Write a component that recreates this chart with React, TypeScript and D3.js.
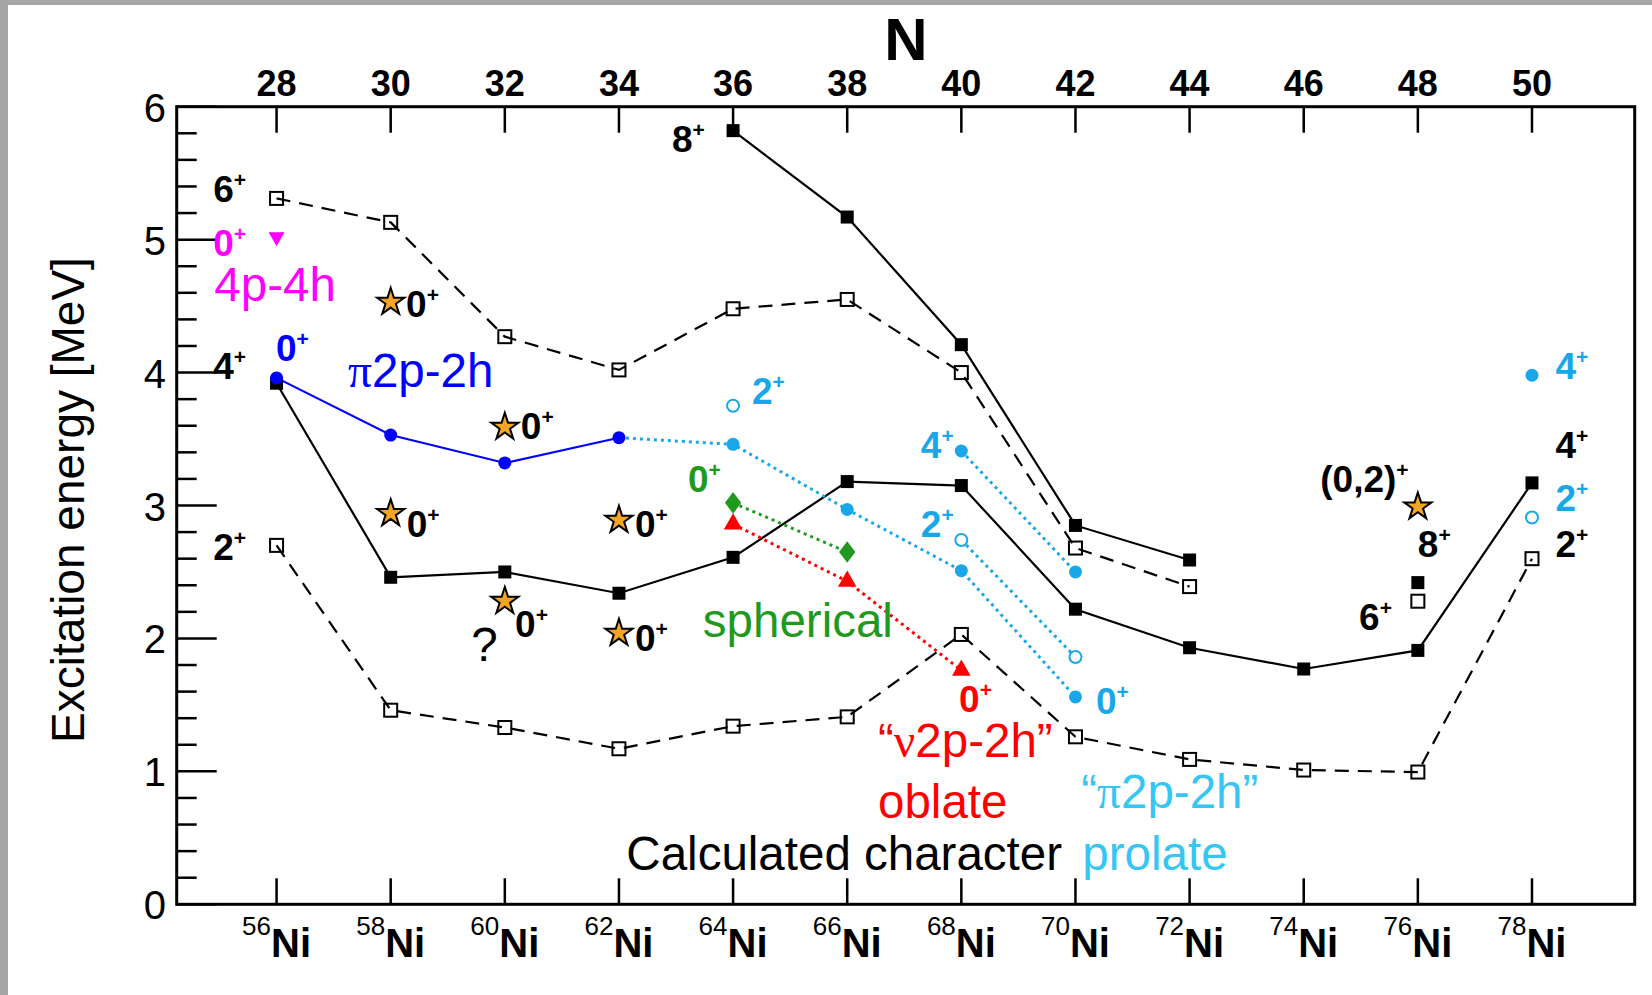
import * as d3 from "d3";

const W = 1652;
const H = 995;

// axis ticks
const N_TICKS = [28, 30, 32, 34, 36, 38, 40, 42, 44, 46, 48, 50];
const MASS = ["56", "58", "60", "62", "64", "66", "68", "70", "72", "74", "76", "78"];
const E_TICKS = [0, 1, 2, 3, 4, 5, 6];
const E_MINOR = d3.range(0, 6.01, 0.2);

// black yrast-like states
const N_2P = [28, 30, 32, 34, 36, 38, 40, 42, 44, 46, 48, 50];
const E_2P = [2.7, 1.46, 1.33, 1.17, 1.34, 1.41, 2.03, 1.26, 1.09, 1.01, 0.995, 2.6];
const N_4P = [28, 30, 32, 34, 36, 38, 40, 42, 44, 46, 48, 50];
const E_4P = [3.92, 2.46, 2.5, 2.34, 2.61, 3.18, 3.15, 2.22, 1.93, 1.77, 1.91, 3.17];
const N_6P = [28, 30, 32, 34, 36, 38, 40, 42, 44];
const E_6P = [5.31, 5.13, 4.27, 4.02, 4.48, 4.55, 4.0, 2.68, 2.39];
const N_8P = [36, 38, 40, 42, 44];
const E_8P = [5.82, 5.17, 4.21, 2.85, 2.59];

// pi 2p-2h band
const N_PI = [28, 30, 32, 34];
const E_PI = [3.96, 3.53, 3.32, 3.51];

// calculated prolate / spherical / oblate
const N_PRO0 = [34, 36, 38, 40, 42];
const E_PRO0 = [3.51, 3.46, 2.97, 2.51, 1.56];
const N_PRO4 = [40, 42];
const E_PRO4 = [3.41, 2.5];
const N_PRO2 = [40, 42];
const E_PRO2 = [2.74, 1.86];
const N_SPH = [36, 38];
const E_SPH = [3.02, 2.65];
const N_OBL = [36, 38, 40];
const E_OBL = [2.86, 2.43, 1.76];

// isolated points
const N_STAR = [30, 32, 30, 34, 32, 34, 48];
const E_STAR = [4.53, 3.59, 2.94, 2.89, 2.28, 2.04, 2.99];
const N_OPEN_C = [36, 50];
const E_OPEN_C = [3.75, 2.91];
const N_FILL_C = [50];
const E_FILL_C = [3.98];
const N_FILL_SQ = [48];
const E_FILL_SQ = [2.42];
const N_OPEN_SQ = [48];
const E_OPEN_SQ = [2.28];
const N_4P4H = [28];
const E_4P4H = [5.02];

const BLUE = "#0000ff";
const LBLUE = "#1aa7ea";
const LBLUE2 = "#35c6f4";
const GREEN = "#1f9a1f";
const RED = "#ff0000";
const MAG = "#ff00ff";
const STAR = "#f4a623";

const FONT = "'Liberation Sans', Arial, Helvetica, sans-serif";
const SERIF = "'Liberation Serif', 'Times New Roman', serif";

// level labels: [text, N, E(baseline), colour]
const SPIN_LABELS: [string, number, number, string][] = [
  ["6", 26.89, 5.28, "#000"],
  ["4", 26.89, 3.95, "#000"],
  ["2", 26.89, 2.59, "#000"],
  ["8", 34.93, 5.66, "#000"],
  ["(0,2)", 46.29, 3.1, "#000"],
  ["8", 48.0, 2.61, "#000"],
  ["6", 46.97, 2.06, "#000"],
  ["4", 50.41, 3.36, "#000"],
  ["2", 50.41, 2.61, "#000"],
  ["0", 30.27, 4.42, "#000"],
  ["0", 32.28, 3.5, "#000"],
  ["0", 30.28, 2.76, "#000"],
  ["0", 34.28, 2.76, "#000"],
  ["0", 32.18, 2.01, "#000"],
  ["0", 34.28, 1.905, "#000"],
  ["0", 26.89, 4.875, MAG],
  ["0", 27.99, 4.09, BLUE],
  ["2", 36.33, 3.76, LBLUE],
  ["4", 39.29, 3.36, LBLUE],
  ["2", 39.29, 2.765, LBLUE],
  ["0", 42.36, 1.43, LBLUE],
  ["4", 50.41, 3.95, LBLUE],
  ["2", 50.41, 2.96, LBLUE],
  ["0", 35.21, 3.1, GREEN],
  ["0", 39.96, 1.45, RED],
];

// plain labels: [prefix, serif letter, rest, N, E(baseline), colour]
const TEXT_LABELS: [string, string, string, number, number, string][] = [
  ["", "", "4p-4h", 26.91, 4.535, MAG],
  ["", "π", "2p-2h", 29.25, 3.89, BLUE],
  ["", "", "?", 31.41, 1.83, "#000"],
  ["", "", "spherical", 35.47, 2.01, GREEN],
  ["“", "ν", "2p-2h”", 38.54, 1.11, RED],
  ["", "", "oblate", 38.54, 0.65, RED],
  ["“", "π", "2p-2h”", 42.1, 0.725, LBLUE2],
  ["", "", "Calculated character", 34.13, 0.26, "#000"],
  ["", "", "prolate", 42.12, 0.26, LBLUE2],
];

const x = d3.scaleLinear().domain([26.25, 51.8]).range([176.7, 1634.7]);
const y = d3.scaleLinear().domain([0, 6]).range([904.3, 106.7]);

const zip = (ns: number[], es: number[]) => ns.map((n, i) => [n, es[i]] as [number, number]);

const line = d3
  .line<[number, number]>()
  .x((d) => x(d[0]))
  .y((d) => y(d[1]));

const starPath = d3.symbol(d3.symbolStar, 230)()!;
const triUp = d3.symbol(d3.symbolTriangle, 150)()!;
const triDown = d3.symbol(d3.symbolTriangle, 110)()!;
const diamond = d3
  .symbol({
    draw(ctx: any, size: number) {
      const h = Math.sqrt(size) * 0.95;
      const w = h * 0.75;
      ctx.moveTo(0, -h);
      ctx.lineTo(w, 0);
      ctx.lineTo(0, h);
      ctx.lineTo(-w, 0);
      ctx.closePath();
    },
  }, 130)()!;

const SQ = 13;

const Squares = ({ pts, filled }: { pts: [number, number][]; filled: boolean }) => (
  <g>
    {pts.map((d, i) => (
      <rect
        key={i}
        x={x(d[0]) - SQ / 2}
        y={y(d[1]) - SQ / 2}
        width={SQ}
        height={SQ}
        fill={filled ? "#000" : "none"}
        stroke="#000"
        strokeWidth={filled ? 0 : 2}
      />
    ))}
  </g>
);

const Circles = ({ pts, color, filled, r }: { pts: [number, number][]; color: string; filled: boolean; r: number }) => (
  <g>
    {pts.map((d, i) => (
      <circle
        key={i}
        cx={x(d[0])}
        cy={y(d[1])}
        r={r}
        fill={filled ? color : "#fff"}
        stroke={color}
        strokeWidth={filled ? 0 : 2}
      />
    ))}
  </g>
);

const Symbols = ({ pts, path, color, rot = 0 }: { pts: [number, number][]; path: string; color: string; rot?: number }) => (
  <g>
    {pts.map((d, i) => (
      <path key={i} d={path} fill={color} transform={`translate(${x(d[0])},${y(d[1])}) rotate(${rot})`} />
    ))}
  </g>
);

export default function App() {
  const dashed = { fill: "none", stroke: "#000", strokeWidth: 2.2, strokeDasharray: "14 9" };
  const solid = { fill: "none", stroke: "#000", strokeWidth: 2.2 };
  const dotted = (c: string) => ({ fill: "none", stroke: c, strokeWidth: 3, strokeDasharray: "3 4" });

  return (
    <svg
      width={W}
      height={H}
      style={{ position: "absolute", left: 0, top: 0 }}
      fontFamily={FONT}
    >
      <rect x={0} y={0} width={W} height={H} fill="#a6a6a6" />
      <rect x={8} y={5} width={W - 8} height={H - 5} fill="#fff" />

      {/* frame */}
      <rect
        x={x.range()[0]}
        y={y.range()[1]}
        width={x.range()[1] - x.range()[0]}
        height={y.range()[0] - y.range()[1]}
        fill="none"
        stroke="#000"
        strokeWidth={3}
      />

      {/* left axis ticks */}
      {E_MINOR.map((e, i) => {
        const major = Math.abs(e - Math.round(e)) < 1e-6;
        return (
          <line
            key={i}
            x1={x.range()[0]}
            x2={x.range()[0] + (major ? 40 : 20)}
            y1={y(e)}
            y2={y(e)}
            stroke="#000"
            strokeWidth={2.5}
          />
        );
      })}
      {E_TICKS.map((e) => (
        <text key={e} x={166} y={y(e) + 15} textAnchor="end" fontSize={40}>
          {e}
        </text>
      ))}

      {/* top and bottom ticks */}
      {N_TICKS.map((n, i) => (
        <g key={n}>
          <line x1={x(n)} x2={x(n)} y1={y(6)} y2={y(6) + 26} stroke="#000" strokeWidth={2.5} />
          <line x1={x(n)} x2={x(n)} y1={y(0)} y2={y(0) - 26} stroke="#000" strokeWidth={2.5} />
          <text x={x(n)} y={96} textAnchor="middle" fontSize={36} fontWeight="bold">
            {n}
          </text>
          <text x={x(n)} y={957} textAnchor="middle">
            <tspan fontSize={26} dy={-22}>
              {MASS[i]}
            </tspan>
            <tspan fontSize={40} fontWeight="bold" dy={22}>
              Ni
            </tspan>
          </text>
        </g>
      ))}

      <text x={906} y={60} textAnchor="middle" fontSize={60} fontWeight="bold">
        N
      </text>
      <text transform="translate(84,500) rotate(-90)" textAnchor="middle" fontSize={46}>
        Excitation energy [MeV]
      </text>

      {/* lines */}
      <path d={line(zip(N_2P, E_2P))!} {...dashed} />
      <path d={line(zip(N_6P, E_6P))!} {...dashed} />
      <path d={line(zip(N_4P, E_4P))!} {...solid} />
      <path d={line(zip(N_8P, E_8P))!} {...solid} />
      <path d={line(zip(N_PRO0, E_PRO0))!} {...dotted(LBLUE)} />
      <path d={line(zip(N_PRO4, E_PRO4))!} {...dotted(LBLUE)} />
      <path d={line(zip(N_PRO2, E_PRO2))!} {...dotted(LBLUE)} />
      <path d={line(zip(N_SPH, E_SPH))!} {...dotted(GREEN)} />
      <path d={line(zip(N_OBL, E_OBL))!} {...dotted(RED)} />
      <path d={line(zip(N_PI, E_PI))!} fill="none" stroke={BLUE} strokeWidth={2.2} />

      {/* markers */}
      <Squares pts={zip(N_2P, E_2P)} filled={false} />
      <Squares pts={zip(N_6P, E_6P)} filled={false} />
      <Squares pts={zip(N_OPEN_SQ, E_OPEN_SQ)} filled={false} />
      <Squares pts={zip(N_4P, E_4P)} filled={true} />
      <Squares pts={zip(N_8P, E_8P)} filled={true} />
      <Squares pts={zip(N_FILL_SQ, E_FILL_SQ)} filled={true} />
      <Circles pts={zip(N_PI, E_PI)} color={BLUE} filled={true} r={6.5} />
      <Circles pts={zip(N_PRO0.slice(1), E_PRO0.slice(1))} color={LBLUE} filled={true} r={6.5} />
      <Circles pts={zip(N_PRO4, E_PRO4)} color={LBLUE} filled={true} r={6.5} />
      <Circles pts={zip(N_FILL_C, E_FILL_C)} color={LBLUE} filled={true} r={6.5} />
      <Circles pts={zip(N_PRO2, E_PRO2)} color={LBLUE} filled={false} r={6} />
      <Circles pts={zip(N_OPEN_C, E_OPEN_C)} color={LBLUE} filled={false} r={6} />
      <Symbols pts={zip(N_SPH, E_SPH)} path={diamond} color={GREEN} />
      <Symbols pts={zip(N_OBL, E_OBL)} path={triUp} color={RED} />
      <Symbols pts={zip(N_4P4H, E_4P4H)} path={triDown} color={MAG} rot={180} />
      {zip(N_STAR, E_STAR).map((d, i) => (
        <path
          key={i}
          d={starPath}
          fill={STAR}
          stroke="#000"
          strokeWidth={2}
          transform={`translate(${x(d[0])},${y(d[1])})`}
        />
      ))}

      {/* spin labels */}
      {SPIN_LABELS.map(([t, n, e, c], i) => (
        <text key={i} x={x(n)} y={y(e)} fill={c} fontWeight="bold" fontSize={37}>
          {t}
          <tspan fontSize={21} dy={-15}>
            +
          </tspan>
        </text>
      ))}

      {/* text labels */}
      {TEXT_LABELS.map(([pre, greek, rest, n, e, c], i) => (
        <text key={i} x={x(n)} y={y(e)} fill={c} fontSize={47.5}>
          {pre}
          {greek && <tspan fontFamily={SERIF}>{greek}</tspan>}
          {rest}
        </text>
      ))}
    </svg>
  );
}
